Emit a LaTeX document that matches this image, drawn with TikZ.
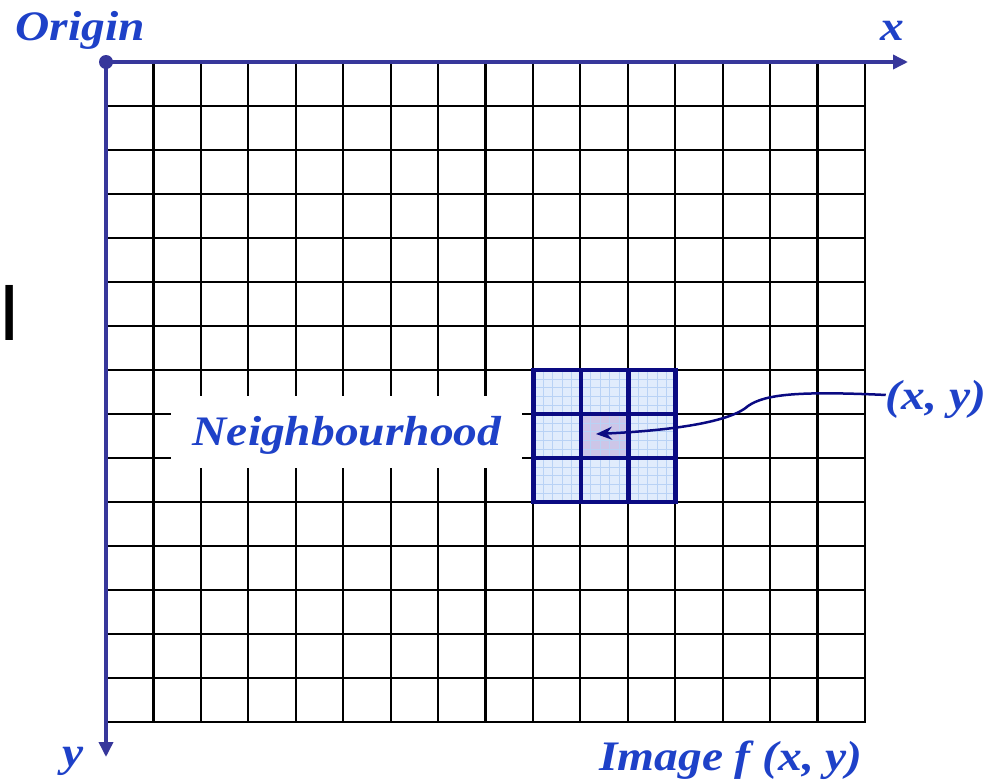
\documentclass[tikz,border=0pt]{standalone}
\usepackage{fontspec}
\usetikzlibrary{arrows.meta}
\newfontfamily\lblfont[FakeStretch=1.13]{Liberation Serif}
\newfontfamily\barfont{Liberation Sans}
\definecolor{axisblue}{RGB}{55,55,155}
\definecolor{txtblue}{RGB}{30,65,200}
\definecolor{nbnavy}{RGB}{10,10,130}
\definecolor{nbfill}{RGB}{225,236,252}
\definecolor{nbsub}{RGB}{185,210,245}
\definecolor{nbcenter}{RGB}{205,198,232}
\begin{document}
\begin{tikzpicture}[x=1pt,y=-1pt,
  gridline/.style={black,line width=2.2pt,line cap=rect},
  axisline/.style={axisblue,line width=3.5pt,-{Triangle[length=15pt,width=14pt]}},
  lbl/.style={txtblue,font=\lblfont\bfseries\itshape\fontsize{42}{42}\selectfont,inner sep=0pt,anchor=base},
  nbline/.style={nbnavy,line width=4.8pt,line cap=rect},
  subline/.style={nbsub,line width=0.6pt}]
\useasboundingbox (0,0) rectangle (990,782);
% image grid
\foreach \i in {0,...,16} \draw[gridline] ({106+47.4375*\i},62) -- ({106+47.4375*\i},722);
\foreach \j in {0,...,15} \draw[gridline] (106,{62+44*\j}) -- (865,{62+44*\j});
% white label box
\fill[white] (171,396) rectangle (522,468);
% neighbourhood block
\fill[nbfill] (533.5,370) rectangle (675.8,502);
\fill[nbcenter] (580.9,414) rectangle (628.4,458);
\foreach \k in {1,...,14} \draw[subline] ({533.5+9.4875*\k},370) -- ++(0,132);
\foreach \k in {1,...,14} \draw[subline] (533.5,{370+8.8*\k}) -- ++(142.3,0);
\foreach \k in {0,...,3} \draw[nbline] ({533.5+47.4375*\k},370) -- ++(0,132);
\foreach \k in {0,...,3} \draw[nbline] (533.5,{370+44*\k}) -- ++(142.3,0);
% axes
\coordinate (xend) at (908,62);
\coordinate (yend) at (106,757);
\coordinate (o) at (106,62);
\draw[axisline] (o) -- (xend);
\draw[axisline] (o) -- (yend);
\node[circle,fill=axisblue,inner sep=0pt,minimum size=14pt] (orig) at (o) {};
% labels
\node[lbl] (origlbl) at (80,40) {Origin};
\node[lbl] (xlbl) at (892,40) {x};
\node[lbl] (ylbl) at (73,766) {y};
\node[lbl] (imglbl) at (731,770) {Image f (x, y)};
\node[lbl] (nblbl) at (347,445) {Neighbourhood};
\node[lbl] (xy) at (936,409) {(x, y)};
\node[inner sep=0pt,anchor=base west,font=\barfont\fontsize{80}{80}\selectfont] (bar) at (-2,340) {I};
% pointer
\coordinate (tip) at (596,434);
\draw[nbnavy,line width=2.5pt,-{Stealth[length=16pt,width=13pt]}]
  ([yshift=4pt]xy.west) .. controls (800,391) and (765,394) .. (748,406)
  .. controls (728,424) and (660,431) .. (tip);
\end{tikzpicture}
\end{document}
